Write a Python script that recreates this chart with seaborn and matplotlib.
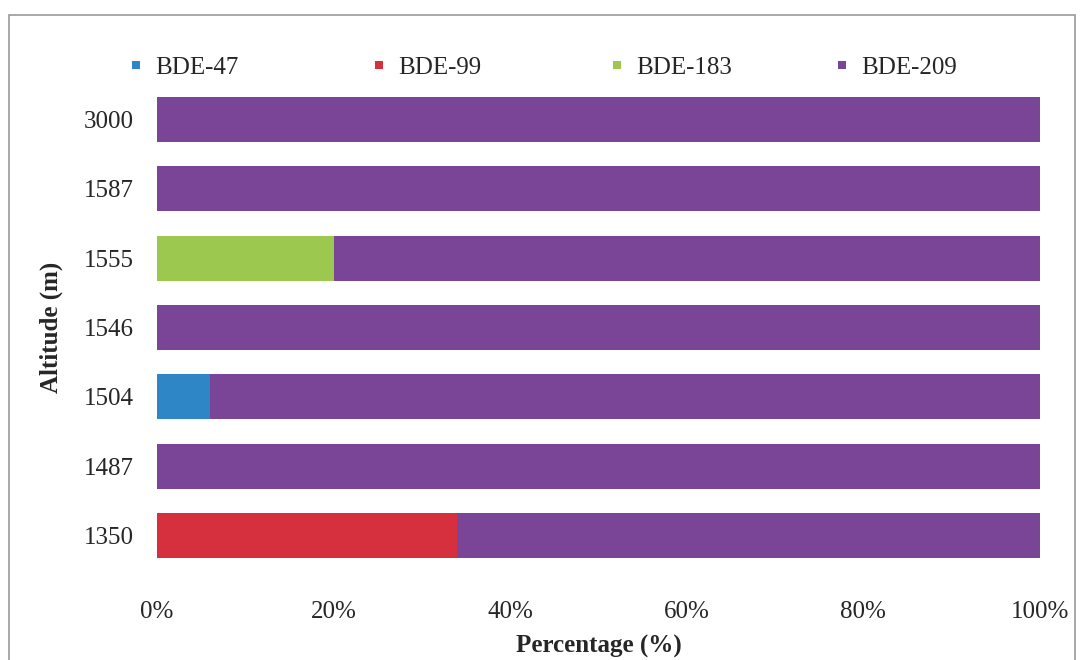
import matplotlib
matplotlib.use("Agg")
import matplotlib.pyplot as plt
from matplotlib.patches import Rectangle
import seaborn as sns
import pandas as pd
import numpy as np

# Altitude sites (top to bottom) and congener shares in percent
altitudes = ["3000", "1587", "1555", "1546", "1504", "1487", "1350"]
bde47 = [0, 0, 0, 0, 6, 0, 0]
bde99 = [0, 0, 0, 0, 0, 0, 34]
bde183 = [0, 0, 20, 0, 0, 0, 0]
bde209 = [100, 100, 80, 100, 94, 100, 66]

series_names = ["BDE-47", "BDE-99", "BDE-183", "BDE-209"]
series_colors = ["#2f86c6", "#d6303f", "#9cc850", "#7a4596"]

sns.set_theme(style="white")
plt.rcParams["font.family"] = ["Liberation Serif", "DejaVu Serif"]

df = pd.DataFrame({"Altitude": altitudes, "BDE-47": bde47, "BDE-99": bde99,
                   "BDE-183": bde183, "BDE-209": bde209})
shares = df[series_names].to_numpy(dtype=float)
cum = np.cumsum(shares, axis=1)

W, H = 1083, 660
fig = plt.figure(figsize=(W / 100, H / 100), dpi=100)
ax = fig.add_axes([157 / W, 1 - 570 / H, (1040 - 157) / W, (570 - 85) / H])

# Stacked horizontal bars: draw cumulative totals from the widest down
for i in range(len(series_names) - 1, -1, -1):
    sns.barplot(x=cum[:, i], y=df["Altitude"], order=altitudes, orient="h",
                color=series_colors[i], width=0.65, ax=ax,
                label=series_names[i], saturation=1, linewidth=0)

handles, labels = ax.get_legend_handles_labels()
if ax.get_legend() is not None:
    ax.get_legend().remove()

ax.set_xlim(0, 100)
ax.set_ylim(6.5, -0.5)
ax.set_xticks([0, 20, 40, 60, 80, 100])
ax.set_xticklabels([f"{v}%" for v in [0, 20, 40, 60, 80, 100]], fontsize=18)
ax.tick_params(axis="y", labelsize=18, pad=17, length=0)
ax.tick_params(axis="x", pad=22, length=0)
for s in ax.spines.values():
    s.set_visible(False)
ax.set_xlabel("Percentage (%)", fontsize=18, fontweight="bold")
ax.xaxis.set_label_coords(0.5, (570 - 646) / (570 - 85), transform=ax.transAxes)
ax.xaxis.label.set_va("center")
ax.set_ylabel("Altitude (m)", fontsize=18, fontweight="bold")
ax.yaxis.set_label_coords((51 - 157) / (1040 - 157), 0.5, transform=ax.transAxes)
ax.yaxis.label.set_va("center")

# Legend entries spread across the top, one per series, with small square keys
legend_x = [132, 375, 613, 838]
for name, x0 in zip(series_names, legend_x):
    h = handles[labels.index(name)]
    fig.legend([h], [name], loc="center left", bbox_to_anchor=(x0 / W, 1 - 68 / H),
               frameon=False, fontsize=18, handlelength=0.33, handleheight=0.12,
               handletextpad=0.6, borderaxespad=0, borderpad=0)

# Thin grey frame around the chart area
fig.patches.append(Rectangle((9 / W, -0.05), (1075 - 9) / W, 1 - 15 / H + 0.05,
                             transform=fig.transFigure, fill=False,
                             edgecolor="#9a9a9a", linewidth=1.2))

fig.savefig("out.png", dpi=100)
